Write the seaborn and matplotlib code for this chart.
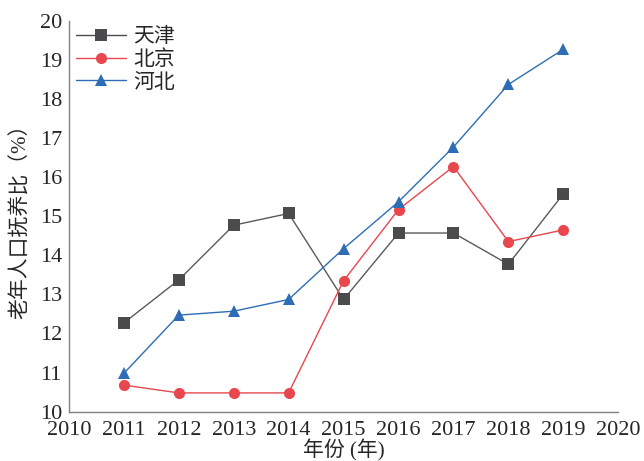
import pandas as pd
import matplotlib.pyplot as plt
import seaborn as sns

# data
years = [2011, 2012, 2013, 2014, 2015, 2016, 2017, 2018, 2019]
tianjin = [12.27, 13.37, 14.77, 15.07, 12.87, 14.57, 14.57, 13.77, 15.57]
beijing = [10.68, 10.48, 10.48, 10.48, 13.35, 15.17, 16.27, 14.35, 14.65]
hebei = [10.98, 12.47, 12.57, 12.87, 14.17, 15.37, 16.77, 18.37, 19.27]
names = ['天津', '北京', '河北']

df = pd.DataFrame({'年份': years, '天津': tianjin, '北京': beijing, '河北': hebei})
df = df.melt(id_vars='年份', var_name='地区', value_name='比')

sns.set_style('white')
plt.rcParams['font.family'] = ['Liberation Serif', 'Noto Sans CJK SC']

fig, ax = plt.subplots(figsize=(6.44, 4.61), dpi=100)

palette = {'天津': '#4b4b4d', '北京': '#e8474e', '河北': '#2e6db5'}
markers = {'天津': 's', '北京': 'o', '河北': '^'}
sns.lineplot(data=df, x='年份', y='比', hue='地区', style='地区',
             hue_order=names, style_order=names, palette=palette,
             markers=markers, dashes=False, markersize=8,
             markeredgewidth=0, linewidth=1, ax=ax)
# grey series: line a bit lighter than its markers
ax.get_lines()[0].set_color('#5a5a5a')
ax.get_lines()[0].set_markerfacecolor('#4b4b4d')

ax.set_xlim(2010, 2020)
ax.set_ylim(10, 20)
ax.set_xticks(range(2010, 2021))
ax.set_yticks(range(10, 21))
ax.tick_params(axis='both', labelsize=16, length=0)
ax.tick_params(axis='x', pad=7)
ax.tick_params(axis='y', pad=5)

for s in ['top', 'right']:
    ax.spines[s].set_visible(False)
for s in ['left', 'bottom']:
    ax.spines[s].set_color('#808080')
    ax.spines[s].set_linewidth(1)

ax.set_xlabel('年份 (年)', fontsize=15, labelpad=-1)
ax.set_ylabel('老年人口抚养比（%）', fontsize=15, labelpad=6)

leg = ax.legend(loc='upper left', bbox_to_anchor=(-0.01, 1.015), frameon=False,
                fontsize=15, handlelength=2.4, handletextpad=0.35,
                labelspacing=0.15, borderaxespad=0.2)
for h in leg.legend_handles:
    h.set_markersize(8)

plt.subplots_adjust(left=0.107, right=0.96, top=0.955, bottom=0.107)
plt.savefig('out.png', dpi=100)
